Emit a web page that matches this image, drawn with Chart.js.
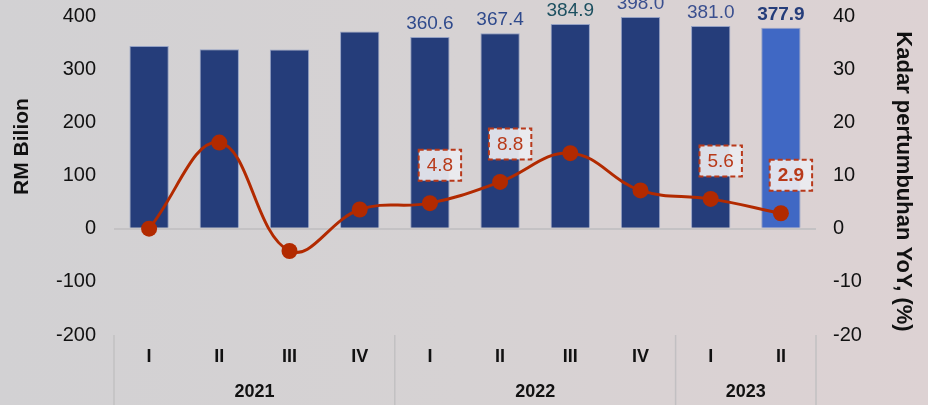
<!DOCTYPE html>
<html>
<head>
<meta charset="utf-8">
<script src="https://cdn.jsdelivr.net/npm/chart.js@4.4.1/dist/chart.umd.min.js"></script>
<style>
    html, body { margin: 0; padding: 0; }
    body {
        width: 928px; height: 405px; overflow: hidden;
        background: linear-gradient(90deg, #d2d1d3 0%, #d6d2d3 50%, #ddd2d3 100%);
        font-family: "Liberation Sans", Arial, sans-serif;
    }
    #wrap { position: relative; width: 928px; height: 405px; }
</style>
</head>
<body>
<div id="wrap"><canvas id="chart"></canvas></div>
<script>
    // --- Data ---
    const quarters = ['I', 'II', 'III', 'IV', 'I', 'II', 'III', 'IV', 'I', 'II'];
    const years = ['2021', '2021', '2021', '2021', '2022', '2022', '2022', '2022', '2023', '2023'];
    const nilai = [343.7, 337.5, 337.0, 371.0, 360.6, 367.4, 384.9, 398.0, 381.0, 377.9];   // RM Bilion
    const pertumbuhan = [0.0, 16.2, -4.2, 3.6, 4.8, 8.8, 14.2, 7.2, 5.6, 2.9];              // YoY %
    const leftTicks = [-200, 400, 100];
    const rightTicks = [-20, 40, 10];
    const barLabelIdx = [4, 5, 6, 7, 8, 9];
    const growthLabelIdx = [4, 5, 8, 9];

    const NAVY = '#253d7a';
    const LIGHT = '#4068c4';
    const RED = '#b22a00';

    // --- Labels, titles, year groups ---
    const extrasPlugin = {
        id: 'extras',
        afterDatasetsDraw(chart) {
            const ctx = chart.ctx;

            // bar value labels
            const barMeta = chart.getDatasetMeta(1);
            const barLabelColors = ['#2f4a8c', '#2f4a8c', '#1d5060', '#3a4f8f', '#3a4f8f', NAVY];
            ctx.save();
            ctx.textAlign = 'center';
            ctx.textBaseline = 'alphabetic';
            barLabelIdx.forEach((i, k) => {
                const el = barMeta.data[i];
                const last = i === nilai.length - 1;
                ctx.font = (last ? 'bold ' : '') + '19px "Liberation Sans", Arial, sans-serif';
                ctx.fillStyle = barLabelColors[k];
                ctx.fillText(nilai[i].toFixed(1), el.x, el.y - 8);
            });

            // growth labels in dashed boxes
            const lineMeta = chart.getDatasetMeta(0);
            growthLabelIdx.forEach(i => {
                const pt = lineMeta.data[i];
                const last = i === pertumbuhan.length - 1;
                const txt = pertumbuhan[i].toFixed(1);
                ctx.font = (last ? 'bold ' : '') + '19px "Liberation Sans", Arial, sans-serif';
                const w = ctx.measureText(txt).width + 16;
                const h = 31;
                const cx = pt.x + 10, cy = pt.y - 38;
                ctx.fillStyle = 'rgba(236,236,240,0.92)';
                ctx.fillRect(cx - w / 2, cy - h / 2, w, h);
                ctx.setLineDash([5, 3]);
                ctx.lineWidth = 2;
                ctx.strokeStyle = '#b8391a';
                ctx.strokeRect(cx - w / 2, cy - h / 2, w, h);
                ctx.setLineDash([]);
                ctx.fillStyle = '#b83a1a';
                ctx.textBaseline = 'middle';
                ctx.fillText(txt, cx, cy + 1);
                ctx.textBaseline = 'alphabetic';
            });
            ctx.restore();
        },
        afterDraw(chart) {
            const ctx = chart.ctx;
            const area = chart.chartArea;
            const x = chart.scales.x;
            const step = x.getPixelForValue(1) - x.getPixelForValue(0);
            ctx.save();

            // year groups and separators
            ctx.strokeStyle = '#c2c0c2';
            ctx.lineWidth = 1.5;
            const groups = [];
            years.forEach((y, i) => {
                if (!groups.length || groups[groups.length - 1].y !== y) groups.push({ y: y, a: i, b: i });
                else groups[groups.length - 1].b = i;
            });
            const bounds = [area.left];
            groups.forEach(g => bounds.push(x.getPixelForValue(g.b) + step / 2));
            bounds.forEach(bx => {
                ctx.beginPath();
                ctx.moveTo(bx, area.bottom);
                ctx.lineTo(bx, chart.height);
                ctx.stroke();
            });
            ctx.fillStyle = '#111';
            ctx.font = 'bold 18px "Liberation Sans", Arial, sans-serif';
            ctx.textAlign = 'center';
            ctx.textBaseline = 'middle';
            groups.forEach(g => {
                const cx = (x.getPixelForValue(g.a) + x.getPixelForValue(g.b)) / 2;
                ctx.fillText(g.y, cx, area.bottom + 57);
            });

            // axis titles
            const midY = (area.top + area.bottom) / 2;
            ctx.font = 'bold 21px "Liberation Sans", Arial, sans-serif';
            ctx.save();
            ctx.translate(area.left - 92, midY - 29);
            ctx.rotate(-Math.PI / 2);
            ctx.fillText('RM Bilion', 0, 0);
            ctx.restore();
            ctx.font = 'bold 22px "Liberation Sans", Arial, sans-serif';
            ctx.save();
            ctx.translate(area.right + 87, midY + 6);
            ctx.rotate(Math.PI / 2);
            ctx.fillText('Kadar pertumbuhan YoY, (%)', 0, 0);
            ctx.restore();

            ctx.restore();
        }
    };

    const tickFont = { family: '"Liberation Sans", Arial, sans-serif', size: 20 };

    new Chart(document.getElementById('chart'), {
        data: {
            labels: quarters,
            datasets: [
                {
                    type: 'line',
                    data: pertumbuhan,
                    yAxisID: 'y1',
                    borderColor: RED,
                    borderWidth: 3,
                    tension: 0.4,
                    pointRadius: 8,
                    pointBackgroundColor: RED,
                    pointBorderWidth: 0,
                    order: 1
                },
                {
                    type: 'bar',
                    data: nilai,
                    yAxisID: 'y',
                    backgroundColor: nilai.map((v, i) => i === nilai.length - 1 ? LIGHT : NAVY),
                    borderColor: 'rgba(120,140,190,0.7)',
                    borderWidth: 1,
                    barPercentage: 0.56,
                    categoryPercentage: 1,
                    order: 2
                }
            ]
        },
        options: {
            responsive: true,
            maintainAspectRatio: false,
            animation: false,
            layout: { padding: { top: 16, left: 0, right: 0, bottom: 0 } },
            plugins: { legend: { display: false }, tooltip: { enabled: false } },
            scales: {
                x: {
                    grid: { display: false, drawTicks: false },
                    border: { display: false },
                    ticks: { color: '#111', font: { family: tickFont.family, size: 18, weight: 'bold' }, padding: 11, maxRotation: 0 },
                    afterFit: s => { s.height = 70; }
                },
                y: {
                    position: 'left',
                    min: leftTicks[0], max: leftTicks[1],
                    ticks: { stepSize: leftTicks[2], color: '#111', font: tickFont, padding: 18 },
                    grid: {
                        drawTicks: false,
                        color: c => c.tick && c.tick.value === 0 ? '#c4c2c4' : 'rgba(0,0,0,0)',
                        lineWidth: 2
                    },
                    border: { display: false },
                    afterFit: s => { s.width = 114; s.paddingTop = 0; s.paddingBottom = 0; }
                },
                y1: {
                    position: 'right',
                    min: rightTicks[0], max: rightTicks[1],
                    ticks: { stepSize: rightTicks[2], color: '#111', font: tickFont, padding: 17 },
                    grid: { display: false, drawTicks: false },
                    border: { display: false },
                    afterFit: s => { s.width = 112; s.paddingTop = 0; s.paddingBottom = 0; }
                }
            }
        },
        plugins: [extrasPlugin]
    });
</script>
</body>
</html>
